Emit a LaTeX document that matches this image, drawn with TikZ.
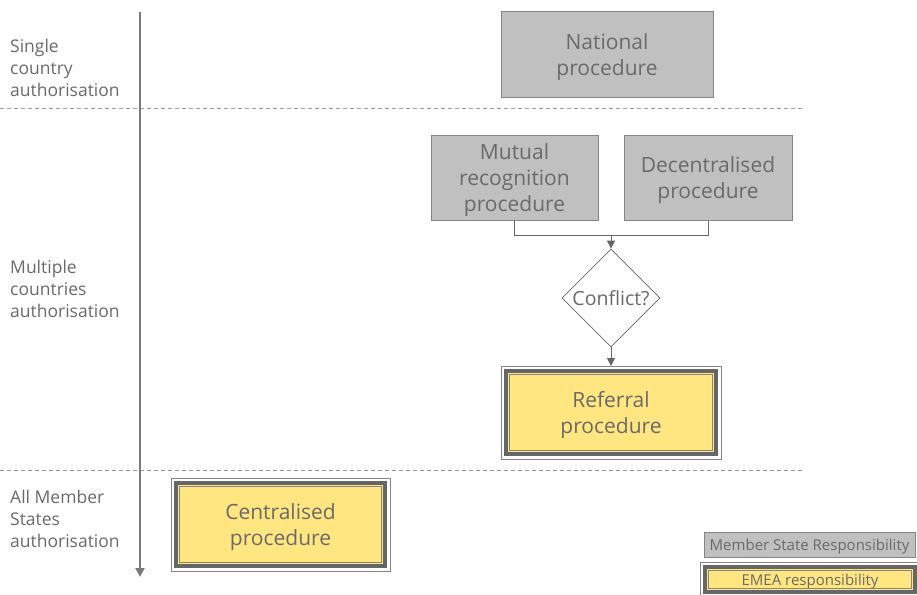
\documentclass[tikz,border=0pt]{standalone}
\usepackage{fontspec}
\setmainfont{Open Sans}
\usetikzlibrary{shapes.geometric,arrows.meta}
\definecolor{txt}{HTML}{6A6A6A}
\definecolor{boxgray}{HTML}{C0C0C0}
\definecolor{edgegray}{HTML}{858585}
\definecolor{band}{HTML}{666666}
\definecolor{emea}{HTML}{FFE680}
\definecolor{axisgray}{HTML}{7A7A7A}
\definecolor{dashgray}{HTML}{9A9A9A}
\definecolor{linkgray}{HTML}{666666}

\begin{document}
\begin{tikzpicture}[x=1pt,y=-1pt,
  msbox/.style={draw=edgegray, line width=1pt, fill=boxgray, text=txt,
    align=center, inner sep=0pt, text depth=0pt, font=\fontsize{21}{26}\selectfont},
  emeabox/.style={draw=band, line width=4pt, fill=emea, text=txt,
    align=center, inner sep=0pt, outer sep=0pt, text depth=0pt, font=\fontsize{21}{26}\selectfont},
  decision/.style={diamond, aspect=1, draw=linkgray, line width=0.8pt, fill=white,
    text=txt, inner sep=0pt, minimum width=98pt, minimum height=98pt,
    font=\fontsize{19.5}{22}\selectfont},
  rowlabel/.style={anchor=west, align=left, text=txt, inner sep=0pt,
    font=\fontsize{17.5}{22}\selectfont},
  link/.style={draw=linkgray, line width=1pt},
  arrowlink/.style={link, -{Triangle[width=8pt,length=8pt]}},
  sep/.style={draw=dashgray, line width=1pt, dash pattern=on 4pt off 3pt},
  outerline/.style={draw=edgegray, line width=1pt},
  innerline/.style={draw=edgegray, line width=0.8pt},
]
\useasboundingbox (0,0) rectangle (917,594);

% section separators
\draw[sep] (0,108) -- (803,108);
\draw[sep] (0,470) -- (803,470);

% vertical axis
\coordinate (axtop) at (140,12);
\coordinate (axbot) at (140,577);
\draw[draw=axisgray, line width=2pt, -{Triangle[width=9pt,length=9pt]}] (axtop) -- (axbot);

% row labels
\node[rowlabel] (l1) at (10,68) {Single\\country\\authorisation};
\node[rowlabel] (l2) at (10,289) {Multiple\\countries\\authorisation};
\node[rowlabel] (l3) at (10,519) {All Member\\States\\authorisation};

% member state procedures
\node[msbox, minimum width=212pt, minimum height=85pt] (nat) at (607,54.5) {National\\procedure};
\node[msbox, minimum width=167pt, minimum height=85pt] (mut) at (514.5,177.5) {Mutual\\recognition\\procedure};
\node[msbox, minimum width=168pt, minimum height=85pt] (dec) at (708,177.5) {Decentralised\\procedure};

% decision
\node[decision] (cf) at (611,298) {Conflict?};

% EMEA procedures (triple frame: thin outer line, thick band, thin inner line)
\node[emeabox, minimum width=210pt, minimum height=83pt] (ref) at (611,412.5) {Referral\\procedure};
\node[emeabox, minimum width=209pt, minimum height=83pt] (cen) at (280.5,524.5) {Centralised\\procedure};
\foreach \n in {ref,cen}{
  \draw[outerline] ([shift={(-5,-5)}]\n.north west) rectangle ([shift={(5,5)}]\n.south east);
  \draw[innerline] ([shift={(3.5,3.5)}]\n.north west) rectangle ([shift={(-3.5,-3.5)}]\n.south east);
}

% connectors
\coordinate (join) at (611,235);
\draw[link] (mut.south) -- (mut.south |- join) -- (dec.south |- join) -- (dec.south);
\draw[arrowlink] (join) -- (cf.north);
\draw[arrowlink] (cf.south) -- ([yshift=5pt]ref.north);

% legend
\node[msbox, minimum width=211pt, minimum height=25pt, font=\fontsize{15}{17}\selectfont] (lgms) at (809.5,544.5) {Member State Responsibility};
\node[emeabox, minimum width=210pt, minimum height=25pt, font=\fontsize{15}{17}\selectfont] (lgem) at (810,579.5) {EMEA responsibility};
\draw[outerline] ([shift={(-5,-5)}]lgem.north west) rectangle ([shift={(5,5)}]lgem.south east);
\draw[innerline] ([shift={(3.5,3.5)}]lgem.north west) rectangle ([shift={(-3.5,-3.5)}]lgem.south east);
\end{tikzpicture}
\end{document}
